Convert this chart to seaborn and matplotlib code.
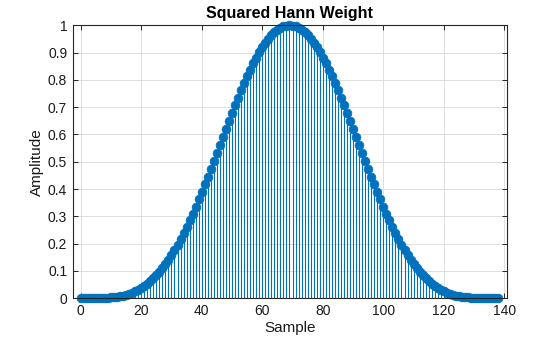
import numpy as np
import pandas as pd
import matplotlib
matplotlib.use("Agg")
import matplotlib.pyplot as plt
import seaborn as sns

# Squared Hann weight, samples 0..138
samples = list(range(139))
weights = [
    0.000, 0.000, 0.000, 0.000, 0.000, 0.000, 0.000, 0.001, 0.001, 0.002,
    0.003, 0.004, 0.005, 0.007, 0.010, 0.013, 0.016, 0.020, 0.025, 0.031,
    0.037, 0.045, 0.053, 0.063, 0.073, 0.084, 0.097, 0.111, 0.125, 0.141,
    0.159, 0.177, 0.196, 0.217, 0.239, 0.262, 0.285, 0.310, 0.336, 0.362,
    0.389, 0.417, 0.445, 0.474, 0.504, 0.533, 0.563, 0.592, 0.621, 0.651,
    0.679, 0.708, 0.735, 0.762, 0.788, 0.813, 0.837, 0.860, 0.881, 0.901,
    0.919, 0.935, 0.950, 0.963, 0.974, 0.984, 0.991, 0.996, 0.999, 1.000,
    0.999, 0.996, 0.991, 0.984, 0.974, 0.963, 0.950, 0.935, 0.919,
    0.901, 0.881, 0.860, 0.837, 0.813, 0.788, 0.762, 0.735, 0.708, 0.679,
    0.651, 0.621, 0.592, 0.563, 0.533, 0.504, 0.474, 0.445, 0.417, 0.389,
    0.362, 0.336, 0.310, 0.285, 0.262, 0.239, 0.217, 0.196, 0.177, 0.159,
    0.141, 0.125, 0.111, 0.097, 0.084, 0.073, 0.063, 0.053, 0.045, 0.037,
    0.031, 0.025, 0.020, 0.016, 0.013, 0.010, 0.007, 0.005, 0.004, 0.003,
    0.002, 0.001, 0.001, 0.000, 0.000, 0.000, 0.000, 0.000, 0.000, 0.000,
]
x_ticks = [0, 20, 40, 60, 80, 100, 120, 140]
y_ticks = [0, 0.1, 0.2, 0.3, 0.4, 0.5, 0.6, 0.7, 0.8, 0.9, 1]
y_tick_labels = ["0", "0.1", "0.2", "0.3", "0.4", "0.5", "0.6", "0.7", "0.8", "0.9", "1"]

df = pd.DataFrame({"Sample": samples, "Amplitude": weights})

sns.set_style("ticks")
plt.rcParams["font.family"] = ["Liberation Sans", "DejaVu Sans"]

stem_color = "#0072BD"
axis_color = "#262626"

fig = plt.figure(figsize=(5.6, 3.37), dpi=100)
ax = fig.add_axes([0.13, 0.115, 0.775, 0.81])

# stems
ax.vlines(df["Sample"], 0, df["Amplitude"], color=stem_color, linewidth=0.8, zorder=2)
# filled markers on top of each stem
sns.scatterplot(data=df, x="Sample", y="Amplitude", ax=ax, color=stem_color,
                s=40, edgecolor=stem_color, linewidth=0.5, zorder=3,
                clip_on=False, legend=False)

ax.set_xlim(-2.6, 140.8)
ax.set_ylim(0, 1)
ax.set_xticks(x_ticks)
ax.set_xticklabels([str(t) for t in x_ticks])
ax.set_yticks(y_ticks)
ax.set_yticklabels(y_tick_labels)

ax.grid(True, color="#dedede", linewidth=0.7)
ax.set_axisbelow(True)

for side in ["left", "right", "top", "bottom"]:
    ax.spines[side].set_visible(True)
    ax.spines[side].set_color(axis_color)
    ax.spines[side].set_linewidth(0.8)
    ax.spines[side].set_zorder(4)

ax.tick_params(direction="in", length=3.5, width=0.7, colors=axis_color,
               labelsize=10, top=True, right=True, pad=4)
for lbl in ax.get_xticklabels() + ax.get_yticklabels():
    lbl.set_color("#1a1a1a")

ax.set_xlabel("Sample", fontsize=11, color="#1a1a1a", labelpad=2)
ax.set_ylabel("Amplitude", fontsize=11, color="#1a1a1a", labelpad=3)
ax.set_title("Squared Hann Weight", fontsize=11.5, fontweight="bold",
             color="#000000", pad=5)

fig.savefig("out.png", dpi=100)
